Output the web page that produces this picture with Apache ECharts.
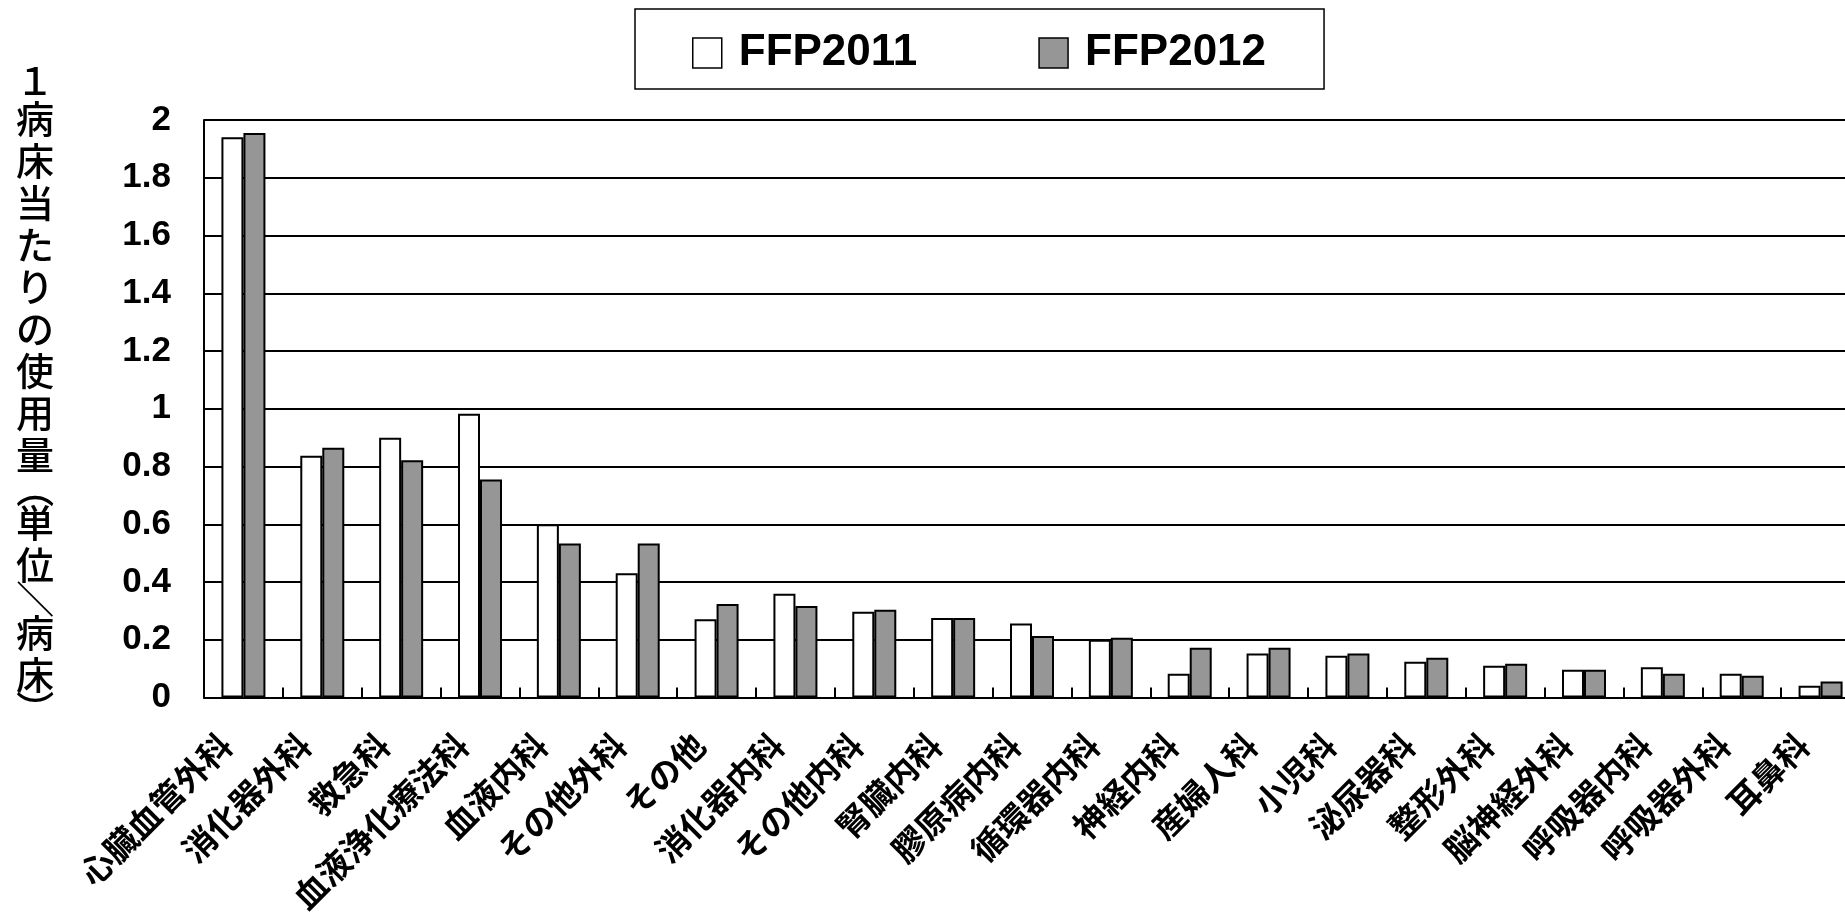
<!DOCTYPE html>
<html>
<head>
<meta charset="utf-8">
<script src="https://cdn.jsdelivr.net/npm/echarts@6/dist/echarts.min.js"></script>
<style>
  html, body { margin: 0; padding: 0; background: #fff; }
  #chart { width: 1845px; height: 915px; }
</style>
</head>
<body>
<div id="chart"></div>
<script>
// Departments, in descending order of FFP use
const departments = [
  '心臓血管外科', '消化器外科', '救急科', '血液浄化療法科', '血液内科',
  'その他外科', 'その他', '消化器内科', 'その他内科', '腎臓内科',
  '膠原病内科', '循環器内科', '神経内科', '産婦人科', '小児科',
  '泌尿器科', '整形外科', '脳神経外科', '呼吸器内科', '呼吸器外科', '耳鼻科'
];

// FFP units used per bed
const ffp2011 = [
  1.94, 0.837, 0.90, 0.983, 0.60,
  0.43, 0.271, 0.359, 0.297, 0.275,
  0.256, 0.20, 0.082, 0.152, 0.145,
  0.124, 0.11, 0.096, 0.105, 0.082, 0.041
];
const ffp2012 = [
  1.955, 0.865, 0.822, 0.755, 0.533,
  0.533, 0.324, 0.317, 0.304, 0.275,
  0.213, 0.207, 0.172, 0.172, 0.152,
  0.138, 0.117, 0.096, 0.082, 0.075, 0.055
];

const seriesNames = ['FFP2011', 'FFP2012'];
const yMin = 0, yMax = 2, yStep = 0.2;

const yTitle = '１病床当たりの使用量（単位／病床）';
const turnedChars = '（）／';

// Vertical advance of a character in the stacked title
function advanceOf(ch) {
  if (ch === '１') return 34;
  if (turnedChars.includes(ch)) return 26;
  return 42;
}

// Vertical axis title: one text element per character, stacked top to bottom;
// brackets and the slash are turned a quarter clockwise as in vertical writing
function verticalTitle(text, cx, firstCenter) {
  const els = [];
  let y = firstCenter;
  let prevAdv = null;
  for (const ch of text) {
    const adv = advanceOf(ch);
    if (prevAdv !== null) y += (prevAdv + adv) / 2;
    prevAdv = adv;
    const turned = turnedChars.includes(ch);
    els.push({
      type: 'text',
      x: cx,
      y: y,
      rotation: turned ? -Math.PI / 2 : 0,
      style: {
        text: ch,
        fill: '#000',
        fontSize: 38,
        fontWeight: 500,
        fontFamily: '"Noto Sans CJK JP", sans-serif',
        align: 'center',
        verticalAlign: 'middle'
      }
    });
  }
  return els;
}

const chart = echarts.init(document.getElementById('chart'), null, { renderer: 'canvas' });

chart.setOption({
  animation: false,
  backgroundColor: '#fff',
  grid: {
    left: 204, top: 120, width: 1656, height: 577.5,
    containLabel: false,
    outerBoundsMode: 'none'
  },
  legend: {
    left: 635,
    top: 9,
    data: seriesNames,
    icon: 'rect',
    itemWidth: 29,
    itemHeight: 30,
    itemGap: 121,
    padding: [22, 58, 14, 57],
    borderColor: '#000',
    borderWidth: 1.5,
    itemStyle: { borderWidth: 1.5 },
    textStyle: {
      fontSize: 44,
      fontWeight: 'bold',
      fontFamily: '"Liberation Sans", Arial, sans-serif',
      color: '#000',
      padding: [0, 0, 0, 12]
    }
  },
  xAxis: {
    type: 'category',
    data: departments,
    axisLine: { lineStyle: { color: '#000', width: 2 } },
    axisTick: { show: true, inside: true, length: 10, lineStyle: { color: '#000', width: 2 } },
    axisLabel: {
      interval: 0,
      rotate: 45,
      margin: 24,
      padding: [0, 25, 0, 0],
      fontSize: 33,
      fontWeight: 'bold',
      fontFamily: '"Noto Sans CJK JP", sans-serif',
      color: '#000'
    },
    splitLine: { show: false }
  },
  yAxis: {
    type: 'value',
    min: yMin,
    max: yMax,
    interval: yStep,
    axisLine: { show: true, lineStyle: { color: '#000', width: 2 } },
    axisTick: { show: false },
    axisLabel: {
      margin: 33,
      fontSize: 35,
      fontWeight: 'bold',
      fontFamily: '"Liberation Sans", Arial, sans-serif',
      color: '#000'
    },
    splitLine: { show: true, lineStyle: { color: '#000', width: 2 } }
  },
  series: [
    {
      name: seriesNames[0],
      type: 'bar',
      data: ffp2011,
      barWidth: 22,
      barGap: '0%',
      itemStyle: { color: '#fff', borderColor: '#000', borderWidth: 2 }
    },
    {
      name: seriesNames[1],
      type: 'bar',
      data: ffp2012,
      barWidth: 22,
      barGap: '0%',
      itemStyle: { color: '#969696', borderColor: '#000', borderWidth: 2 }
    }
  ],
  graphic: verticalTitle(yTitle, 35, 81)
});
</script>
</body>
</html>
